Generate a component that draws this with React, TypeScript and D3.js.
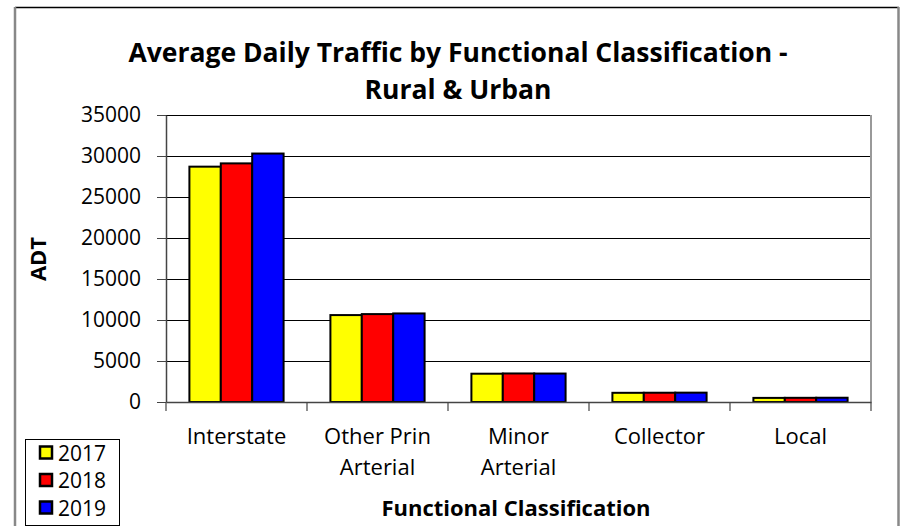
import React, { useEffect, useRef } from "react";
import * as d3 from "d3";

const categories = ["Interstate", "Other Prin|Arterial", "Minor|Arterial", "Collector", "Local"];
const years = ["2017", "2018", "2019"];
const values2017 = [28700, 10600, 3450, 1120, 500];
const values2018 = [29100, 10720, 3480, 1130, 510];
const values2019 = [30300, 10800, 3470, 1140, 520];
const yTicks = [0, 5000, 10000, 15000, 20000, 25000, 30000, 35000];
const colors = ["#ffff00", "#ff0000", "#0000ff"];

const FONT = "'Open Sans', sans-serif";

export default function App() {
  const ref = useRef<SVGSVGElement>(null);

  useEffect(() => {
    const svg = d3.select(ref.current);
    svg.selectAll("*").remove();

    const width = 903;
    const height = 526;
    const margin = { top: 115, left: 166, bottom: 124, right: 32 };
    const iwidth = width - margin.left - margin.right;
    const iheight = height - margin.top - margin.bottom;

    // outer frame
    svg.append("line").attr("x1", 15).attr("x2", 899).attr("y1", 7.5).attr("y2", 7.5)
      .attr("stroke", "#000").attr("stroke-width", 1.5);
    svg.append("line").attr("x1", 15).attr("x2", 15).attr("y1", 7).attr("y2", height)
      .attr("stroke", "#888").attr("stroke-width", 2.5);
    svg.append("line").attr("x1", 898.5).attr("x2", 898.5).attr("y1", 7).attr("y2", height)
      .attr("stroke", "#888").attr("stroke-width", 2.5);

    // title
    const title = svg.append("text").attr("text-anchor", "middle")
      .attr("font-family", FONT).attr("font-weight", "bold").attr("font-size", 26.5);
    title.append("tspan").attr("x", 458).attr("y", 62).text("Average Daily Traffic by Functional Classification -");
    title.append("tspan").attr("x", 458).attr("y", 99).text("Rural & Urban");

    const g = svg.append("g").attr("transform", `translate(${margin.left},${margin.top})`);

    const y = d3.scaleLinear().domain([0, 35000]).range([iheight, 0]);
    const x = d3.scaleBand().domain(categories).range([0, iwidth]).paddingInner(0).paddingOuter(0);
    const xs = d3.scaleBand().domain(years).range([x.bandwidth() * 0.166, x.bandwidth() * 0.834]).padding(0);

    // gridlines
    g.selectAll("line.grid").data(yTicks.slice(1)).enter().append("line")
      .attr("class", "grid")
      .attr("x1", 0).attr("x2", iwidth)
      .attr("y1", (d) => Math.round(y(d)) + 0.5).attr("y2", (d) => Math.round(y(d)) + 0.5)
      .attr("stroke", "#000").attr("stroke-width", 1);

    // right border of plot
    g.append("line").attr("x1", iwidth).attr("x2", iwidth).attr("y1", 0).attr("y2", iheight)
      .attr("stroke", "#999").attr("stroke-width", 2);

    // bars
    const series = [values2017, values2018, values2019];
    categories.forEach((c, ci) => {
      years.forEach((yr, si) => {
        const v = series[si][ci];
        g.append("rect")
          .attr("x", (x(c) as number) + (xs(yr) as number))
          .attr("y", y(v))
          .attr("width", xs.bandwidth())
          .attr("height", iheight - y(v))
          .attr("fill", colors[si])
          .attr("stroke", "#000")
          .attr("stroke-width", 2);
      });
    });

    // y axis
    const yAxis = g.append("g").call(
      d3.axisLeft(y).tickValues(yTicks).tickFormat(d3.format("d")).tickSize(9).tickPadding(16).tickSizeOuter(0)
    );
    yAxis.select(".domain").attr("stroke", "#444").attr("stroke-width", 1.5);
    yAxis.selectAll(".tick line").attr("stroke", "#444");
    yAxis.selectAll("text").attr("font-family", FONT).attr("font-size", 21).attr("fill", "#000");

    // x axis
    const xAxis = g.append("g").attr("transform", `translate(0,${iheight})`).call(
      d3.axisBottom(x).tickSize(0).tickFormat(() => "")
    );
    xAxis.select(".domain").attr("stroke", "#444").attr("stroke-width", 1.5);
    const edges = d3.range(categories.length + 1).map((i) => i * x.step());
    xAxis.selectAll("line.edge").data(edges).enter().append("line")
      .attr("class", "edge")
      .attr("x1", (d) => d).attr("x2", (d) => d).attr("y1", 0).attr("y2", 9)
      .attr("stroke", "#444").attr("stroke-width", 1.2);

    categories.forEach((c) => {
      const parts = c.split("|");
      const t = g.append("text").attr("text-anchor", "middle")
        .attr("font-family", FONT).attr("font-size", 22).attr("fill", "#000");
      parts.forEach((p, i) => {
        t.append("tspan")
          .attr("x", (x(c) as number) + x.bandwidth() / 2)
          .attr("y", iheight + 42 + i * 31)
          .text(p);
      });
    });

    // axis titles
    svg.append("text").attr("x", 516).attr("y", 516).attr("text-anchor", "middle")
      .attr("font-family", FONT).attr("font-weight", "bold").attr("font-size", 22)
      .text("Functional Classification");
    svg.append("text").attr("transform", "translate(46,259) rotate(-90)").attr("text-anchor", "middle")
      .attr("font-family", FONT).attr("font-weight", "bold").attr("font-size", 22)
      .text("ADT");

    // legend
    const lg = svg.append("g");
    lg.append("rect").attr("x", 25.5).attr("y", 439.5).attr("width", 94).attr("height", 86)
      .attr("fill", "#fff").attr("stroke", "#000").attr("stroke-width", 1);
    years.forEach((yr, i) => {
      const cy = 453 + i * 27.5;
      lg.append("rect").attr("x", 40).attr("y", cy - 6.5).attr("width", 12).attr("height", 12)
        .attr("fill", colors[i]).attr("stroke", "#000").attr("stroke-width", 2.5);
      lg.append("text").attr("x", 58).attr("y", cy + 7.5)
        .attr("font-family", FONT).attr("font-size", 21).text(yr);
    });
  }, []);

  return (
    <svg
      ref={ref}
      width={903}
      height={526}
      style={{ position: "absolute", left: 0, top: 0, background: "#fff" }}
    />
  );
}
